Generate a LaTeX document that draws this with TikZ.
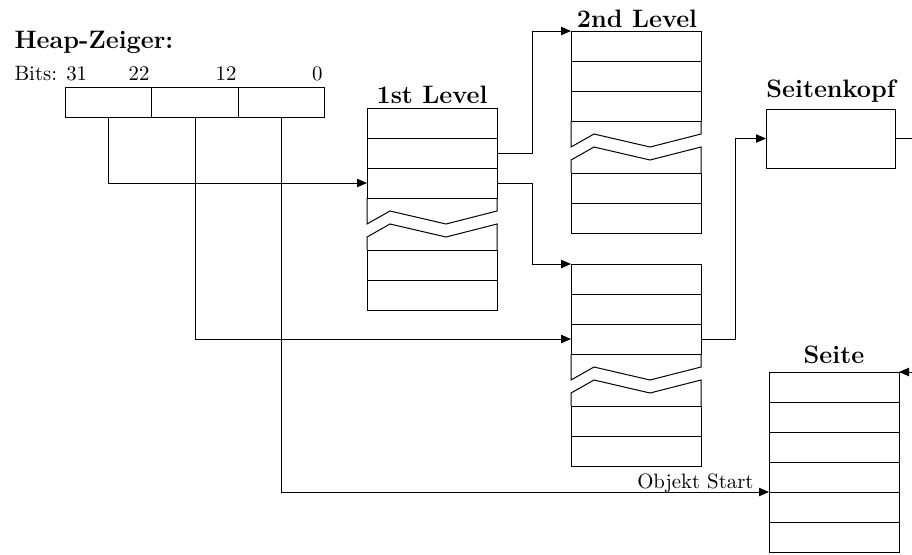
\documentclass[tikz,border=0pt]{standalone}
\usepackage{tikz}
\usetikzlibrary{arrows.meta, positioning, calc}
\tikzset{
  cellbox/.style={
    draw, line width=0.5pt, minimum width=65pt, minimum height=15pt,
    inner sep=0pt, outer sep=0pt
  },
  regbox/.style={
    draw, line width=0.5pt, minimum width=43.33pt, minimum height=15pt,
    inner sep=0pt, outer sep=0pt
  },
  ptrarrow/.style={
    -{Triangle[length=5pt,width=4.2pt]}, line width=0.5pt
  },
  titlelabel/.style={
    font=\fontsize{12.6pt}{15pt}\selectfont\bfseries, inner sep=0pt
  },
  bitlabel/.style={
    font=\fontsize{10.4pt}{12.5pt}\selectfont, inner sep=0pt
  },
}

\begin{document}
\begin{tikzpicture}[x=0.5pt, y=-0.5pt, line width=0.5pt]
  \useasboundingbox (0,0) rectangle (912,554);

  % === Heap-Zeiger ===
  \node[titlelabel, anchor=base west] (heaplbl) at (14,48) {Heap-Zeiger:};
  \node[bitlabel, anchor=base west] (bits31) at (14,80) {Bits: 31};
  \node[bitlabel, anchor=base east] (bits22) at (150,80) {22};
  \node[bitlabel, anchor=base east] (bits12) at (237,80) {12};
  \node[bitlabel, anchor=base east] (bits0) at (323,80) {0};
  \foreach \i/\bx in {1/108.5, 2/195, 3/281.5}
    \node[regbox] (reg\i) at (\bx,102) {};

  % === Level tables (3 rows, break, 2 rows) ===
  \foreach \tab/\cx/\ty in {lone/432/108, ltwo/636/31, lthree/636/264} {
    \foreach \i in {1,2,3}
      \node[cellbox] (\tab-\i) at (\cx, \ty-15+30*\i) {};
    \foreach \i in {4,5}
      \node[cellbox] (\tab-\i) at (\cx, \ty+37+30*\i) {};
    \draw (\tab-3.south west) -- ++(0,26) -- ++(23,-13) -- ++(56,13) -- ++(51,-13) -- (\tab-3.south east);
    \draw (\tab-4.north west) -- ++(0,-13) -- ++(23,-13) -- ++(56,13) -- ++(51,-13) -- (\tab-4.north east);
  }
  \node[titlelabel, anchor=base] (lonelbl) at (432,103) {1st Level};
  \node[titlelabel, anchor=base] (ltwolbl) at (637,27) {2nd Level};

  % === Seitenkopf ===
  \node[cellbox, minimum width=64.5pt, minimum height=29.5pt] (kopf) at (830.5,138.5) {};
  \node[titlelabel, anchor=base] (kopflbl) at (831,97) {Seitenkopf};

  % === Seite ===
  \foreach \i in {1,...,6}
    \node[cellbox] (seite-\i) at (834, 357+30*\i) {};
  \node[titlelabel, anchor=base] (seitelbl) at (834,363) {Seite};
  \node[bitlabel, anchor=base east] (objstart) at (754,488) {Objekt Start};

  % === Arrows: pointer bits ===
  \draw[ptrarrow] (reg1.south) |- (lone-3.west);
  \draw[ptrarrow] (reg2.south) |- (lthree-3.west);
  \draw[ptrarrow] (reg3.south) |- (seite-5.north west);

  % === Arrows: tables ===
  \draw[ptrarrow] (lone-2.east) -- ++(35,0) |- (ltwo-1.north west);
  \draw[ptrarrow] (lone-3.east) -- ++(35,0) |- (lthree-1.north west);
  \draw[ptrarrow] (lthree-3.east) -- ++(34,0) |- (kopf.west);
  \draw[ptrarrow] (kopf.east) -- ++(30,0) |- (seite-1.north east);

\end{tikzpicture}
\end{document}
